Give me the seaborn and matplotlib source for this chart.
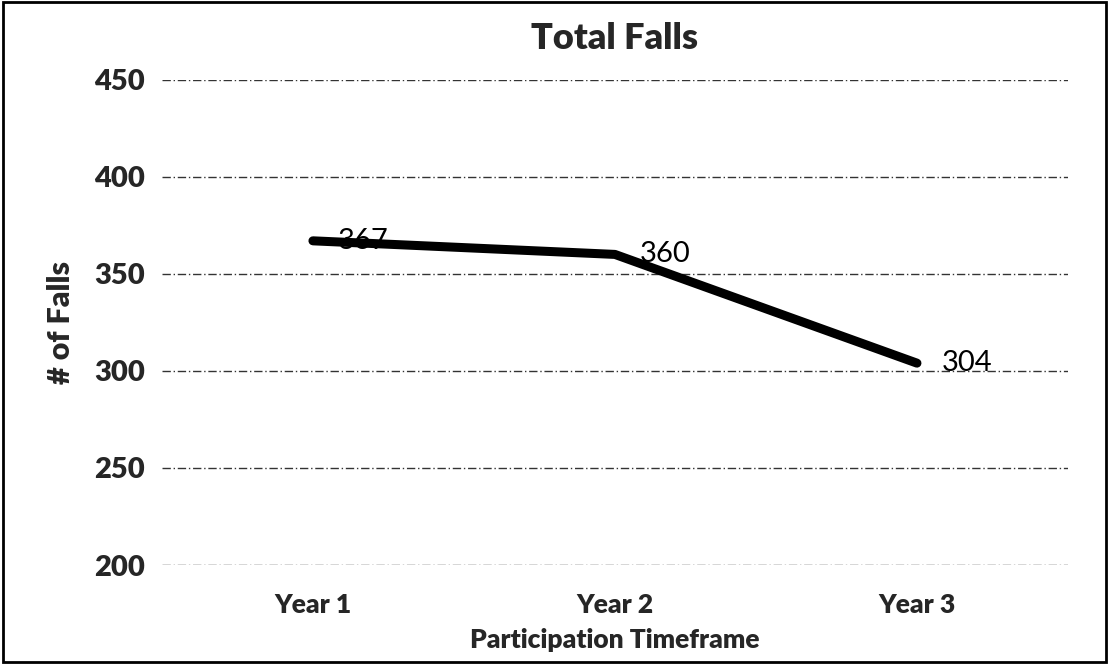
import matplotlib.pyplot as plt
import pandas as pd
import seaborn as sns
from matplotlib.patches import Rectangle

years = ['Year 1', 'Year 2', 'Year 3']
falls = [367, 360, 304]
y_ticks = [200, 250, 300, 350, 400, 450]

df = pd.DataFrame({'year': years, 'falls': falls})

sns.set_style('white')
plt.rcParams['font.family'] = ['Lato', 'DejaVu Sans']

fig = plt.figure(figsize=(11.09, 6.64), dpi=100)
ax = fig.add_axes([0.146, 0.149, 0.817, 0.731])

sns.lineplot(data=df, x='year', y='falls', ax=ax, color='black', linewidth=6.5,
             solid_capstyle='round', solid_joinstyle='round', sort=False)

for x, v in enumerate(falls):
    ax.annotate(str(v), (x, v), xytext=(18, 0), textcoords='offset points',
                va='center', ha='left', fontsize=21, color='black')

ax.set_xlim(-0.5, 2.5)
ax.set_ylim(200, 450)
ax.set_yticks(y_ticks)
ax.yaxis.grid(True, color='#333333', linestyle=(0, (6, 2, 1, 2)), linewidth=1.0)
ax.xaxis.grid(False)
for s in ax.spines.values():
    s.set_visible(False)
ax.tick_params(axis='both', length=0, labelsize=21)
ax.tick_params(axis='x', pad=20, labelsize=19)
ax.tick_params(axis='y', pad=12)
for lab in ax.get_xticklabels() + ax.get_yticklabels():
    lab.set_fontweight('heavy')

ax.set_title('Total Falls', fontsize=26, fontweight='heavy', pad=22)
ax.set_xlabel('Participation Timeframe', fontsize=19, fontweight='heavy', labelpad=8)
ax.set_ylabel('# of Falls', fontsize=22, fontweight='heavy', labelpad=14)

fig.patches.append(Rectangle((0.003, 0.003), 0.994, 0.994, transform=fig.transFigure,
                             fill=False, edgecolor='black', linewidth=2))

plt.savefig('out.png', dpi=100)
plt.close(fig)
